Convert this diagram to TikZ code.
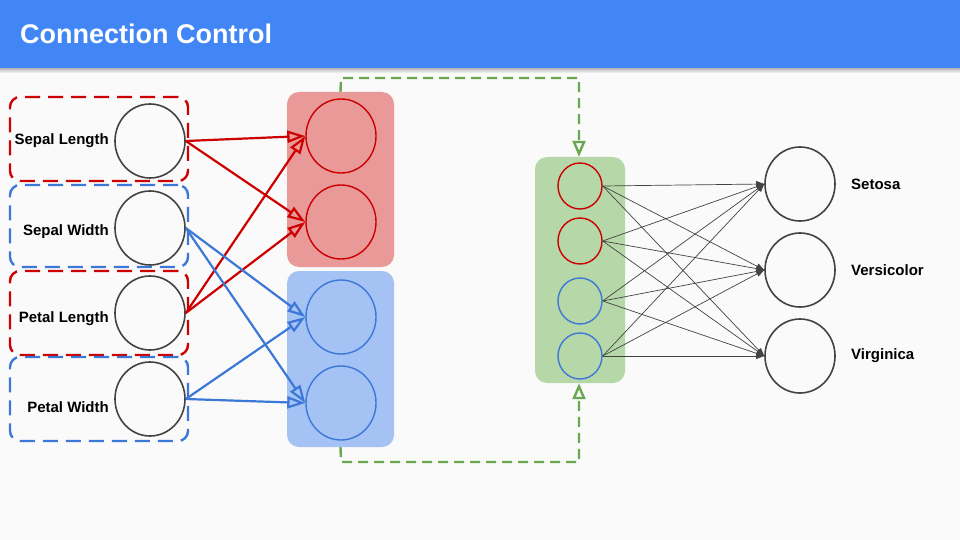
\documentclass[tikz,border=0pt]{standalone}
\usepackage{fontspec}
\setmainfont{Liberation Sans}
\usetikzlibrary{shapes.geometric,arrows.meta,shadings}
\definecolor{hdr}{HTML}{4285F4}
\definecolor{bgc}{HTML}{FAFAFA}
\definecolor{rd}{HTML}{CC0000}
\definecolor{bl}{HTML}{3C78D8}
\definecolor{gn}{HTML}{6AA84F}
\definecolor{rfill}{HTML}{EA9999}
\definecolor{bfill}{HTML}{A4C2F4}
\definecolor{gfill}{HTML}{B6D7A8}
\definecolor{dk}{HTML}{434343}
\tikzset{
  bigc/.style={ellipse,draw=dk,line width=1.6pt,minimum width=70pt,minimum height=74pt,inner sep=0pt},
  hidc/.style={ellipse,line width=1.4pt,minimum width=70pt,minimum height=74pt,inner sep=0pt},
  smc/.style={ellipse,line width=1.4pt,minimum width=44pt,minimum height=46pt,inner sep=0pt},
  dbox/.style={rectangle,rounded corners=10pt,line width=2.4pt,dash pattern=on 15pt off 8pt,inner sep=0pt},
  fbox/.style={rectangle,rounded corners=12pt,inner sep=0pt},
  lbl/.style={font=\fontsize{15}{18}\selectfont\bfseries,inner sep=0pt},
  rarr/.style={draw=rd,line width=2.2pt,-{Triangle[open,length=18pt,width=12pt]}},
  barr/.style={draw=bl,line width=2.2pt,-{Triangle[open,length=18pt,width=12pt]}},
  garr/.style={draw=gn,line width=2.4pt,dash pattern=on 10pt off 6pt,-{Triangle[open,length=16pt,width=13pt]}},
  fineconn/.style={draw=dk,line width=0.7pt,-{Triangle[length=8pt,width=6pt]}}
}
\begin{document}
\begin{tikzpicture}[x=1pt,y=-1pt]
\useasboundingbox (0,0) rectangle (960,540);
\fill[bgc] (0,0) rectangle (960,540);
\shade[top color=black!35,bottom color=bgc] (0,67) rectangle (960,73);
\fill[hdr] (0,0) rectangle (960,68);
\node[anchor=base west,text=white,font=\fontsize{27}{32}\selectfont\bfseries,inner sep=0pt] (title) at (20,44) {Connection Control};

% middle filled boxes
\node[fbox,fill=rfill,minimum width=107pt,minimum height=175pt] (rbox) at (340.5,179.5) {};
\node[fbox,fill=bfill,minimum width=107pt,minimum height=176pt] (bbox) at (340.5,359) {};
\node[fbox,fill=gfill,minimum width=90pt,minimum height=226pt] (gbox) at (580,270) {};

% left dashed boxes
\node[dbox,draw=rd,minimum width=178pt,minimum height=84pt] (b1) at (99,139) {};
\node[dbox,draw=bl,minimum width=178pt,minimum height=82pt] (b2) at (99,226) {};
\node[dbox,draw=rd,minimum width=178pt,minimum height=84pt] (b3) at (99,313) {};
\node[dbox,draw=bl,minimum width=178pt,minimum height=84pt] (b4) at (99,399) {};

% input circles
\node[bigc] (i1) at (150,141) {};
\node[bigc] (i2) at (150,228) {};
\node[bigc] (i3) at (150,313) {};
\node[bigc] (i4) at (150,399) {};
\node[lbl,anchor=east] (t1) at (109,141) {Sepal Length};
\node[lbl,anchor=east] (t2) at (109,232) {Sepal Width};
\node[lbl,anchor=east] (t3) at (109,319) {Petal Length};
\node[lbl,anchor=east] (t4) at (109,407) {Petal Width};

% hidden circles
\node[hidc,draw=rd] (h1) at (341,136) {};
\node[hidc,draw=rd] (h2) at (341,222) {};
\node[hidc,draw=bl] (h3) at (341,317) {};
\node[hidc,draw=bl] (h4) at (341,403) {};

% green circles
\node[smc,draw=rd] (g1) at (580,186) {};
\node[smc,draw=rd] (g2) at (580,241) {};
\node[smc,draw=bl] (g3) at (580,301) {};
\node[smc,draw=bl] (g4) at (580,356) {};

% output circles
\node[bigc] (o1) at (800,184) {};
\node[bigc] (o2) at (800,270) {};
\node[bigc] (o3) at (800,356) {};
\node[lbl,anchor=west] (l1) at (851,184) {Setosa};
\node[lbl,anchor=west] (l2) at (851,270) {Versicolor};
\node[lbl,anchor=west] (l3) at (851,356) {Virginica};

% red/blue arrows
\draw[rarr] (i1.east) -- (h1.west);
\draw[rarr] (i1.east) -- (h2.west);
\draw[rarr] (i3.east) -- (h1.west);
\draw[rarr] (i3.east) -- (h2.west);
\draw[barr] (i2.east) -- (h3.west);
\draw[barr] (i2.east) -- (h4.west);
\draw[barr] (i4.east) -- (h3.west);
\draw[barr] (i4.east) -- (h4.west);

% green dashed connectors
\coordinate (c1) at (341,78);
\coordinate (c2) at (579,78);
\coordinate (c3) at (341,462);
\coordinate (c4) at (579,462);
\draw[garr] (rbox.north) -- (c1) -- (c2) -- (c2 |- gbox.north);
\draw[garr] (bbox.south) -- (c3) -- (c4) -- (c4 |- gbox.south);

% dense connections
\foreach \g in {g1,g2,g3,g4}{
  \foreach \o in {o1,o2,o3}{
    \draw[fineconn] (\g.east) -- (\o.west);
  }
}
\end{tikzpicture}
\end{document}
